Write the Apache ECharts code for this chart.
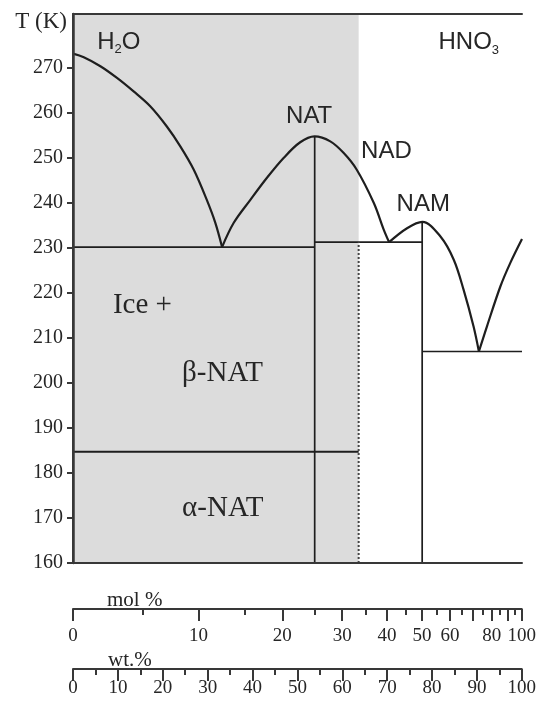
<!DOCTYPE html>
<html>
<head>
<meta charset="utf-8">
<script src="https://cdn.jsdelivr.net/npm/echarts@6/dist/echarts.min.js"></script>
<style>
  html, body { margin: 0; padding: 0; background: #fff; }
  #chart { width: 539px; height: 705px; }
</style>
</head>
<body>
<div id="chart"></div>
<script>
// HNO3 / H2O solid-liquid phase diagram

// Molar masses, g/mol
const M_HNO3 = 63.01;
const M_H2O = 18.015;

// Temperature range and tick labels (K)
const T_MIN = 160;
const T_MAX = 282;
const tempTicks = [160, 170, 180, 190, 200, 210, 220, 230, 240, 250, 260, 270];

// Hydrates and their composition in mol% HNO3
const hydrateNames = ['NAT', 'NAD', 'NAM'];
const hydrateMol = [25, 100 / 3, 50];

// Liquidus branches as [wt% HNO3, T (K)]
const iceLiquidus = [[0, 273.2], [2.4, 272.4], [6.1, 270.4], [9.8, 267.8], [13.5, 264.8], [17.2, 261.5],
  [20.9, 257.0], [23.9, 252.6], [26.9, 247.4], [29.8, 240.7], [31.7, 235.6], [33.2, 230.2]];
const natLiquidus = [[33.2, 230.2], [35.8, 235.6], [39.5, 240.7], [43.2, 245.6], [46.9, 250.0], [50.6, 253.5],
  [53.8, 254.8], [57.3, 253.7], [60.3, 251.1], [63.2, 247.4], [67.0, 240.0], [69.2, 234.1], [70.4, 231.3]];
const namLiquidus = [[70.4, 231.3], [74.4, 234.4], [77.8, 235.8], [81.8, 232.6], [84.8, 227.4], [87.0, 220.7],
  [89.2, 212.6], [90.4, 207.0]];
const acidLiquidus = [[90.4, 207.0], [92.2, 212.6], [95.2, 221.5], [97.4, 226.7], [100, 232.0]];

// Congruent melting points of NAT and NAM (K)
const meltingT = [254.8, 235.8];
// Eutectics: ice/NAT, NAT/NAM, NAM/HNO3 (K)
const eutecticT = [230.2, 231.3, 207.0];
// beta-NAT -> alpha-NAT transition (K)
const transitionT = 184.7;

// Field labels
const phaseLabels = ['Ice +', 'β-NAT', 'α-NAT'];

// Composition scales below the plot
const molMajor = [0, 10, 20, 30, 40, 50, 60, 70, 80, 90, 100];
const molLabeled = [0, 10, 20, 30, 40, 50, 60, 80, 100];
const molMinor = [5, 15, 25, 35, 45, 55, 65, 75, 85, 95];

// mol% HNO3 <-> wt% HNO3
function molToWt(m) {
  const x = m / 100;
  return 100 * x * M_HNO3 / (x * M_HNO3 + (1 - x) * M_H2O);
}
function wtToMol(w) {
  const a = w / M_HNO3, b = (100 - w) / M_H2O;
  return 100 * a / (a + b);
}

const natWt = molToWt(hydrateMol[0]);
const nadWt = molToWt(hydrateMol[1]);
const namWt = molToWt(hydrateMol[2]);

const SERIF = '"Liberation Serif", "Times New Roman", serif';
const SANS = '"Liberation Sans", Arial, sans-serif';
const INK = '#1e1e1e';
const FRAME = '#383838';
const TEXT = '#262626';

function line(data, style, smooth) {
  return {
    type: 'line', xAxisIndex: 0, yAxisIndex: 0, data: data, symbol: 'none',
    smooth: smooth || false,
    silent: true, z: 3, lineStyle: Object.assign({ color: INK, width: 1.7 }, style || {})
  };
}

const hidden = { axisLine: { show: false }, axisTick: { show: false }, axisLabel: { show: false }, splitLine: { show: false } };

const chart = echarts.init(document.getElementById('chart'));

const option = {
  animation: false,
  backgroundColor: '#ffffff',
  grid: [
    { left: 73, right: 17, top: 14, bottom: 142 },
    { left: 73, right: 17, bottom: 96, height: 6 },
    { left: 73, right: 17, bottom: 36, height: 6 }
  ],
  xAxis: [
    { gridIndex: 0, type: 'value', min: 0, max: 100, position: 'bottom', z: 6,
      axisLine: { lineStyle: { color: FRAME, width: 2 } },
      axisTick: { show: false }, axisLabel: { show: false }, splitLine: { show: false } },
    { gridIndex: 0, type: 'value', min: 0, max: 100, position: 'top', z: 6,
      axisLine: { lineStyle: { color: FRAME, width: 2 } },
      axisTick: { show: false }, axisLabel: { show: false }, splitLine: { show: false } },
    // mol% scale: major ticks and labels
    { gridIndex: 1, type: 'value', min: 0, max: 100, position: 'bottom',
      name: 'mol %', nameLocation: 'start', nameGap: -34,
      nameTextStyle: { fontFamily: SERIF, fontSize: 21, color: TEXT, align: 'left', verticalAlign: 'bottom', padding: [0, 0, -2, 0] },
      axisLine: { lineStyle: { color: FRAME, width: 2 } },
      axisTick: { customValues: molMajor.map(molToWt), length: 12, lineStyle: { color: FRAME, width: 2 } },
      axisLabel: { customValues: molLabeled.map(molToWt), margin: 18,
        formatter: function (v) { return String(Math.round(wtToMol(v))); },
        fontFamily: SERIF, fontSize: 19, color: TEXT },
      splitLine: { show: false } },
    // mol% scale: minor ticks
    { gridIndex: 1, type: 'value', min: 0, max: 100, position: 'bottom',
      axisLine: { show: false },
      axisTick: { customValues: molMinor.map(molToWt), length: 6, lineStyle: { color: FRAME, width: 2 } },
      axisLabel: { show: false }, splitLine: { show: false } },
    // wt% scale
    { gridIndex: 2, type: 'value', min: 0, max: 100, interval: 10, position: 'bottom',
      name: 'wt.%', nameLocation: 'start', nameGap: -35,
      nameTextStyle: { fontFamily: SERIF, fontSize: 21, color: TEXT, align: 'left', verticalAlign: 'bottom', padding: [0, 0, -2, 0] },
      axisLine: { lineStyle: { color: FRAME, width: 2 } },
      axisTick: { length: 12, lineStyle: { color: FRAME, width: 2 } },
      minorTick: { show: true, splitNumber: 2, length: 6, lineStyle: { color: FRAME, width: 2 } },
      axisLabel: { margin: 10, fontFamily: SERIF, fontSize: 19, color: TEXT },
      splitLine: { show: false }, minorSplitLine: { show: false } }
  ],
  yAxis: [
    { gridIndex: 0, type: 'value', min: T_MIN, max: T_MAX, position: 'left', z: 6,
      name: 'T (K)', nameLocation: 'end', nameGap: -8,
      nameTextStyle: { fontFamily: SERIF, fontSize: 23, color: TEXT, align: 'right', verticalAlign: 'middle', padding: [0, 6, 0, 0] },
      axisLine: { lineStyle: { color: FRAME, width: 2.5 } },
      axisTick: { customValues: tempTicks, length: 6, lineStyle: { color: FRAME, width: 2 } },
      axisLabel: { customValues: tempTicks, margin: 10, fontFamily: SERIF, fontSize: 20, color: TEXT },
      splitLine: { show: false } },
    { gridIndex: 0, type: 'value', min: T_MIN, max: T_MAX, position: 'right', z: 6,
      axisLine: { lineStyle: { color: FRAME, width: 2 } },
      axisTick: { show: false }, axisLabel: { show: false }, splitLine: { show: false } },
    Object.assign({ gridIndex: 1, type: 'value', min: 0, max: 1 }, hidden),
    Object.assign({ gridIndex: 2, type: 'value', min: 0, max: 1 }, hidden)
  ],
  series: [
    // shaded field: water-rich side up to NAD composition
    { type: 'line', xAxisIndex: 0, yAxisIndex: 0, data: [], silent: true, z: 1,
      markArea: { silent: true, itemStyle: { color: '#dcdcdc' },
        data: [[{ xAxis: 0, yAxis: T_MIN }, { xAxis: nadWt, yAxis: T_MAX }]] } },
    // eutectic and transition isotherms
    line([[0, eutecticT[0]], [natWt, eutecticT[0]]]),
    line([[natWt, eutecticT[1]], [namWt, eutecticT[1]]]),
    line([[namWt, eutecticT[2]], [100, eutecticT[2]]]),
    line([[0, transitionT], [nadWt, transitionT]], { width: 2 }),
    // hydrate compositions
    line([[natWt, T_MIN], [natWt, meltingT[0]]]),
    line([[namWt, T_MIN], [namWt, meltingT[1]]]),
    line([[nadWt, T_MIN], [nadWt, eutecticT[1]]], { type: 'dotted', width: 2, color: '#444' }),
    // liquidus
    line(iceLiquidus, { width: 2.2 }, 0.35),
    line(natLiquidus, { width: 2.2 }, 0.35),
    line(namLiquidus, { width: 2.2 }, 0.35),
    line(acidLiquidus, { width: 2.2 }, 0.35),
    // annotations
    { type: 'scatter', xAxisIndex: 0, yAxisIndex: 0, silent: true, z: 8, symbolSize: 1,
      itemStyle: { color: 'rgba(0,0,0,0)', opacity: 1 },
      label: { show: true, position: 'inside', formatter: '{b}', color: TEXT, opacity: 1 },
      data: [
        { name: 'H2O', value: [5.4, 275.8],
          label: { align: 'left', formatter: '{m|H}{s|2}{m|O}',
            rich: { m: { fontFamily: SANS, fontSize: 24, color: TEXT, lineHeight: 28 },
                    s: { fontFamily: SANS, fontSize: 13, color: TEXT, lineHeight: 28, verticalAlign: 'bottom' } } } },
        { name: 'HNO3', value: [81.4, 275.6],
          label: { align: 'left', formatter: '{m|HNO}{s|3}',
            rich: { m: { fontFamily: SANS, fontSize: 24, color: TEXT, lineHeight: 28 },
                    s: { fontFamily: SANS, fontSize: 13, color: TEXT, lineHeight: 28, verticalAlign: 'bottom' } } } },
        { name: hydrateNames[0], value: [52.6, 259.2], label: { fontFamily: SANS, fontSize: 24 } },
        { name: hydrateNames[1], value: [69.8, 251.5], label: { fontFamily: SANS, fontSize: 24 } },
        { name: hydrateNames[2], value: [78.0, 239.8], label: { fontFamily: SANS, fontSize: 24 } },
        { name: phaseLabels[0], value: [8.9, 217.2], label: { align: 'left', fontFamily: SERIF, fontSize: 29 } },
        { name: phaseLabels[1], value: [24.3, 202.2], label: { align: 'left', fontFamily: SERIF, fontSize: 29 } },
        { name: phaseLabels[2], value: [24.3, 172.1], label: { align: 'left', fontFamily: SERIF, fontSize: 29 } }
      ] }
  ]
};

chart.setOption(option);
</script>
</body>
</html>
